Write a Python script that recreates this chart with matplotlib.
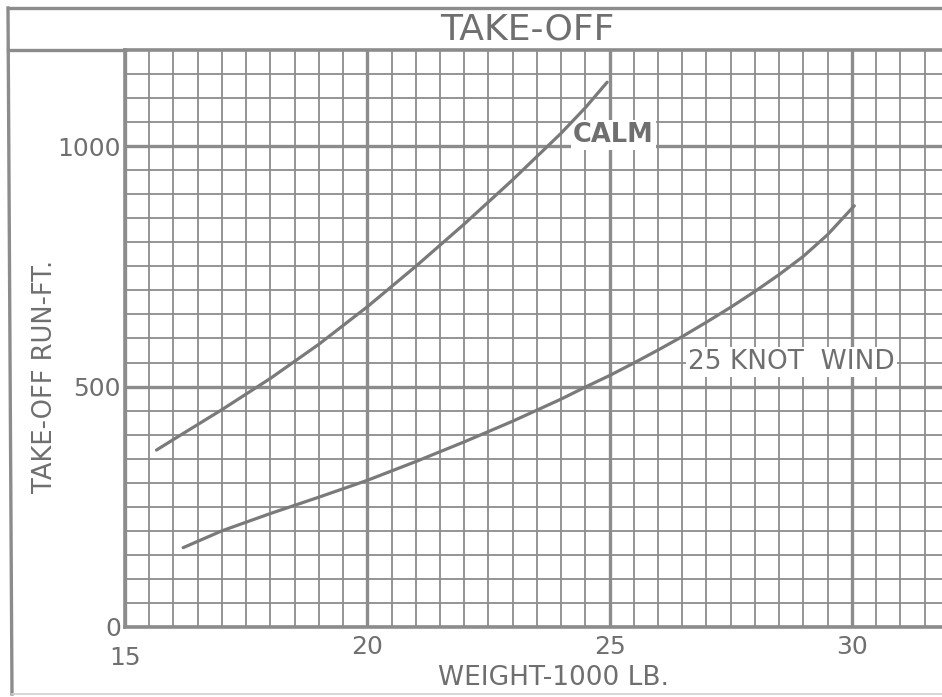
import numpy as np
import matplotlib.pyplot as plt
from matplotlib.lines import Line2D
from matplotlib.transforms import ScaledTranslation

# take-off run (weight in 1000 lb, run in ft)
calm_wt = [15.65, 16.0, 17.0, 18.0, 19.0, 20.0, 21.0, 22.0, 23.0, 24.0, 24.5, 24.95]
calm_run = [368, 390, 452, 517, 588, 666, 750, 838, 930, 1027, 1080, 1133]

wind_wt = [16.2, 17, 18, 19, 20, 21, 22, 23, 24, 24.5, 25, 25.5, 26, 26.5,
           27, 27.5, 28, 28.5, 29, 29.5, 30.05]
wind_run = [165, 200, 236, 270, 305, 344, 385, 428, 474, 499, 523, 549, 576, 604,
            634, 665, 698, 733, 771, 816, 876]

x_ticks = [15, 20, 25, 30]
x_labels = ['15', '20', '25', '30']
y_ticks = [0, 500, 1000]
y_labels = ['0', '500', '1000']

grid_c = '#8c8c8c'
ink = '#7a7a7a'
txt = '#6f6f6f'

W, H = 942, 697
fig = plt.figure(figsize=(W / 100, H / 100), dpi=100)
ax = fig.add_axes([125 / W, 70 / H, 817 / W, 577 / H])

ax.set_xlim(15, 31.86)
ax.set_ylim(0, 1200)

ax.set_xticks(x_ticks, x_labels)
ax.set_yticks(y_ticks, y_labels)
ax.set_xticks(np.arange(15, 32, 0.5), minor=True)
ax.set_yticks(np.arange(0, 1201, 50), minor=True)
ax.grid(which='minor', color=grid_c, lw=1.3, zorder=0)
ax.grid(which='major', color=grid_c, lw=2.4, zorder=0)
ax.tick_params(which='both', length=0, labelsize=18, labelcolor=txt)
ax.tick_params(axis='x', pad=6)
ax.tick_params(axis='y', pad=3)
ax.set_axisbelow(True)

for s in ['left', 'bottom', 'top']:
    ax.spines[s].set_color(grid_c)
    ax.spines[s].set_linewidth(2.6)
ax.spines['right'].set_visible(False)

# the "15" sits a bit lower on the original sheet
lbl = ax.xaxis.get_major_ticks()[0].label1
lbl.set_transform(lbl.get_transform() + ScaledTranslation(0, -8 / 72, fig.dpi_scale_trans))

ax.plot(calm_wt, calm_run, color=ink, lw=2.3, solid_capstyle='round', zorder=3)
ax.plot(wind_wt, wind_run, color=ink, lw=2.3, solid_capstyle='round', zorder=3)

box = dict(facecolor='white', edgecolor='none', pad=1.5)
ax.text(24.24, 996, 'CALM', fontsize=18.5, fontweight='bold', color=txt,
        ha='left', va='bottom', bbox=box, zorder=2)
ax.text(26.62, 551, '25 KNOT  WIND', fontsize=19, color=txt,
        ha='left', va='center', bbox=box, zorder=2)

# axis titles
fig.text(554 / W, 1 - 678 / H, 'WEIGHT-1000 LB.', fontsize=19, color=txt,
         ha='center', va='center')
fig.text(45 / W, 1 - 376 / H, 'TAKE-OFF RUN-FT.', fontsize=18.5, color=txt,
         ha='center', va='center', rotation=90)

# title box and outer frame
fig.text(527 / W, 1 - 29 / H, 'TAKE-OFF', fontsize=26, color=txt,
         ha='center', va='center')
frame = dict(color=grid_c, lw=2.4, transform=fig.transFigure)
fig.add_artist(Line2D([8 / W, 1], [1 - 8 / H, 1 - 8 / H], **frame))
fig.add_artist(Line2D([8 / W, 12 / W], [1 - 8 / H, 1 - 694 / H], **frame))
fig.add_artist(Line2D([8 / W, 125 / W], [1 - 50 / H, 1 - 50 / H], **frame))
fig.add_artist(Line2D([12 / W, 1], [1 - 694 / H, 1 - 694 / H], color='#cfcfcf',
                      lw=1.2, transform=fig.transFigure))

fig.savefig('out.png', dpi=100, facecolor='white')
